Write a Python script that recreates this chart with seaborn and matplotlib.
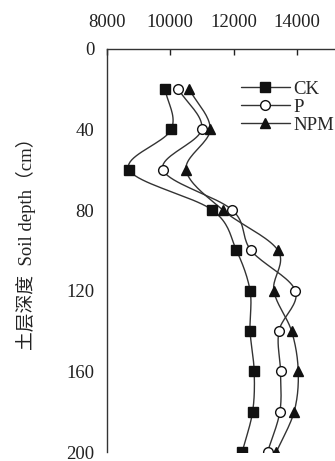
import numpy as np
import pandas as pd
import matplotlib
matplotlib.use("Agg")
import matplotlib.pyplot as plt
import seaborn as sns
from matplotlib.lines import Line2D

depth = [20, 40, 60, 80, 100, 120, 140, 160, 180, 200]
ck = [9840, 10030, 8700, 11330, 12090, 12520, 12520, 12650, 12600, 12270]
p = [10260, 10990, 9770, 11960, 12550, 13950, 13430, 13480, 13460, 13070]
npm = [10600, 11260, 10500, 11660, 13400, 13270, 13830, 14040, 13910, 13350]
series_names = ["CK", "P", "NPM"]
x_ticks = [8000, 10000, 12000, 14000]
y_ticks = [0, 40, 80, 120, 160, 200]

sns.set_style("white")
plt.rcParams["font.family"] = ["Liberation Serif", "Noto Sans CJK SC"]

df = pd.DataFrame({
    "depth": depth * 3,
    "value": ck + p + npm,
    "treat": sum([[n] * len(depth) for n in series_names], []),
})


def catmull(xs, ys, n=20):
    xs = np.asarray(xs, float)
    ys = np.asarray(ys, float)
    P = np.column_stack([xs, ys])
    P = np.vstack([2 * P[0] - P[1], P, 2 * P[-1] - P[-2]])
    out = []
    for i in range(1, len(P) - 2):
        p0, p1, p2, p3 = P[i - 1], P[i], P[i + 1], P[i + 2]
        t = np.linspace(0, 1, n, endpoint=False)[:, None]
        c = 0.5 * ((2 * p1) + (-p0 + p2) * t + (2 * p0 - 5 * p1 + 4 * p2 - p3) * t ** 2
                   + (-p0 + 3 * p1 - 3 * p2 + p3) * t ** 3)
        out.append(c)
    out.append(P[-2][None, :])
    c = np.vstack(out)
    return c[:, 0], c[:, 1]


fig = plt.figure(figsize=(3.35, 4.61), dpi=100)
ax = fig.add_axes([0.319, 0.0195, 0.681, 0.8745])

styles = {
    "CK": dict(marker="s", mfc="#111111"),
    "P": dict(marker="o", mfc="white"),
    "NPM": dict(marker="^", mfc="#111111"),
}
line_color = "#333333"
for name in series_names:
    sub = df[df.treat == name]
    sx, sy = catmull(sub["value"].values, sub["depth"].values)
    ax.plot(sx, sy, color=line_color, lw=1.0, zorder=2)
    ax.plot(sub["value"], sub["depth"], ls="none", marker=styles[name]["marker"],
            ms=7, mfc=styles[name]["mfc"], mec="#111111", mew=1.0, zorder=3)

handles = [Line2D([0], [0], color=line_color, lw=1.0, marker=styles[n]["marker"], ms=7,
                  mfc=styles[n]["mfc"], mec="#111111") for n in series_names]
leg = ax.legend(handles, series_names, loc="upper right", bbox_to_anchor=(1.03, 0.94),
                frameon=False, fontsize=13.5, handlelength=2.6, handletextpad=0.2,
                labelspacing=0.05, borderaxespad=0)

ax.set_xlim(8000, 15200)
ax.set_ylim(200, 0)
ax.set_xticks(x_ticks)
ax.set_yticks(y_ticks)
ax.xaxis.tick_top()
ax.tick_params(axis="both", direction="in", length=4, width=1, labelsize=13.5,
               colors="#222222")
ax.tick_params(axis="y", pad=9)
ax.tick_params(axis="x", pad=13)
for s in ["right", "bottom"]:
    ax.spines[s].set_visible(False)
for s in ["left", "top"]:
    ax.spines[s].set_color("#333333")
    ax.spines[s].set_linewidth(1.0)

fig.text(0.078, 0.48, "土层深度  Soil depth（cm）", rotation=90, va="center", ha="center",
         fontsize=13.5, color="#222222")

fig.savefig("out.png", dpi=100)
